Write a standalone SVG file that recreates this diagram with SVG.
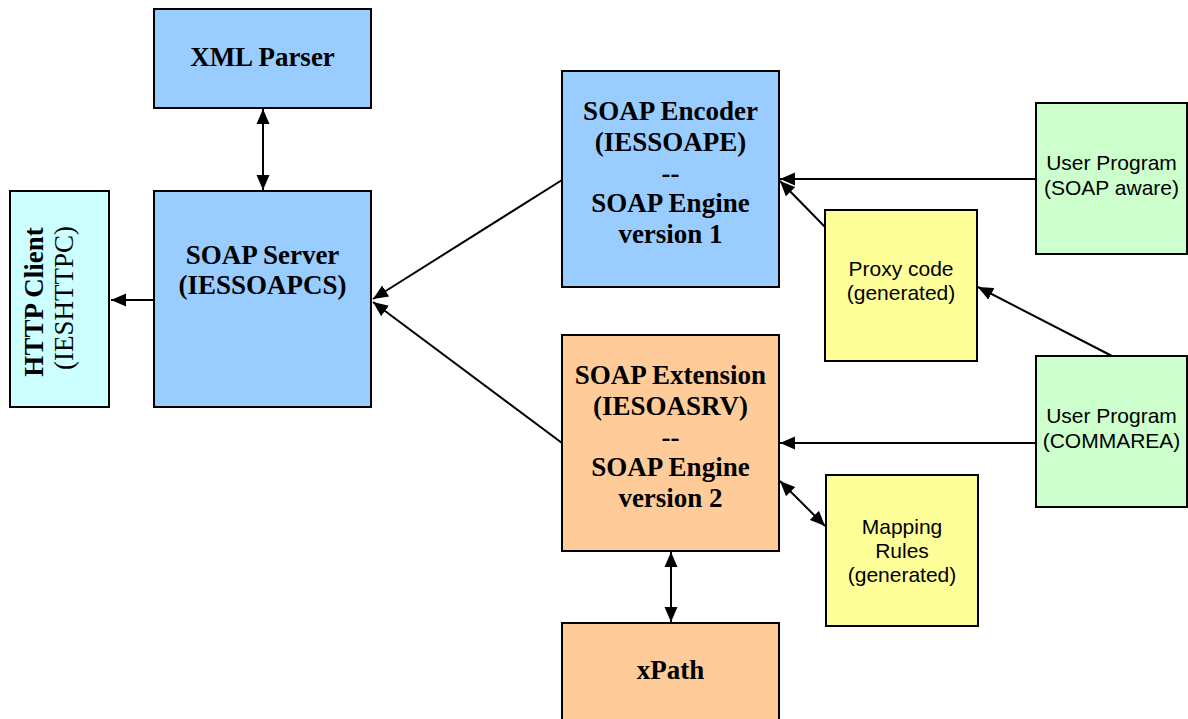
<svg xmlns="http://www.w3.org/2000/svg" width="1188" height="719" viewBox="0 0 1188 719">
  <style>
    .box { stroke: #000; stroke-width: 2; }
    .blue { fill: #99CCFF; }
    .cyan { fill: #CCFFFF; }
    .orange { fill: #FFCC99; }
    .yellow { fill: #FFFF99; }
    .green { fill: #CCFFCC; }
    .serif { font-family: "Liberation Serif", "Times New Roman", serif; font-size: 27px; fill: #000; text-anchor: middle; }
    .bold { font-weight: bold; }
    .sans { font-family: "Liberation Sans", Arial, sans-serif; font-size: 21px; fill: #000; text-anchor: middle; }
    .conn { stroke: #000; stroke-width: 2; fill: none; marker-end: url(#arrow); }
    .both { marker-start: url(#arrow); }
  </style>
  <defs>
    <marker id="arrow" markerUnits="userSpaceOnUse" markerWidth="16" markerHeight="14" refX="15" refY="7" orient="auto-start-reverse">
      <path d="M0,0.5 L15,7 L0,13.5 z" fill="#000"/>
    </marker>
  </defs>

  <rect width="1188" height="719" fill="#fff"/>

  <!-- connectors -->
  <g id="connectors">
    <line class="conn both" x1="263" y1="109" x2="263" y2="190"/>
    <line class="conn" x1="154" y1="300" x2="111" y2="300"/>
    <line class="conn" x1="562" y1="180" x2="373" y2="299"/>
    <line class="conn" x1="562" y1="443" x2="373" y2="302"/>
    <line class="conn" x1="1036" y1="179" x2="780" y2="179"/>
    <line class="conn" x1="826" y1="228" x2="780" y2="181"/>
    <line class="conn" x1="1112" y1="356" x2="978" y2="287"/>
    <line class="conn" x1="1036" y1="443" x2="780" y2="443"/>
    <line class="conn both" x1="780" y1="481" x2="825" y2="526"/>
    <line class="conn both" x1="671" y1="552" x2="671" y2="622"/>
  </g>

  <g id="http-client">
    <rect class="box cyan" x="10" y="191" width="99" height="216"/>
    <text class="serif bold" font-size="25" transform="translate(43,302) rotate(-90)">HTTP Client</text>
    <text class="serif" font-size="25" transform="translate(73,298) rotate(-90)">(IESHTTPC)</text>
  </g>

  <g id="xml-parser">
    <rect class="box blue" x="154" y="9" width="217" height="99"/>
    <text class="serif bold" x="262.5" y="66">XML Parser</text>
  </g>

  <g id="soap-server">
    <rect class="box blue" x="154" y="191" width="217" height="216"/>
    <text class="serif bold" x="262.5" y="264">SOAP Server</text>
    <text class="serif bold" x="262.5" y="294">(IESSOAPCS)</text>
  </g>

  <g id="soap-encoder">
    <rect class="box blue" x="562" y="71" width="217" height="216"/>
    <text class="serif bold" x="670.5" y="120">SOAP Encoder</text>
    <text class="serif bold" x="670.5" y="151">(IESSOAPE)</text>
    <text class="serif bold" x="670.5" y="182">--</text>
    <text class="serif bold" x="670.5" y="212">SOAP Engine</text>
    <text class="serif bold" x="670.5" y="243">version 1</text>
  </g>

  <g id="soap-extension">
    <rect class="box orange" x="562" y="335" width="217" height="216"/>
    <text class="serif bold" x="670.5" y="384">SOAP Extension</text>
    <text class="serif bold" x="670.5" y="415">(IESOASRV)</text>
    <text class="serif bold" x="670.5" y="446">--</text>
    <text class="serif bold" x="670.5" y="476">SOAP Engine</text>
    <text class="serif bold" x="670.5" y="507">version 2</text>
  </g>

  <g id="xpath">
    <rect class="box orange" x="562" y="623" width="217" height="110"/>
    <text class="serif bold" x="670.5" y="679">xPath</text>
  </g>

  <g id="proxy-code">
    <rect class="box yellow" x="825" y="210" width="152" height="151"/>
    <text class="sans" x="901" y="276">Proxy code</text>
    <text class="sans" x="901" y="300">(generated)</text>
  </g>

  <g id="mapping-rules">
    <rect class="box yellow" x="826" y="475" width="152" height="151"/>
    <text class="sans" x="902" y="534">Mapping</text>
    <text class="sans" x="902" y="558">Rules</text>
    <text class="sans" x="902" y="582">(generated)</text>
  </g>

  <g id="user-program-soap">
    <rect class="box green" x="1036" y="103" width="151" height="151"/>
    <text class="sans" x="1111.5" y="170">User Program</text>
    <text class="sans" x="1111.5" y="195">(SOAP aware)</text>
  </g>

  <g id="user-program-commarea">
    <rect class="box green" x="1036" y="356" width="151" height="151"/>
    <text class="sans" x="1111.5" y="423">User Program</text>
    <text class="sans" x="1111.5" y="448">(COMMAREA)</text>
  </g>
</svg>
